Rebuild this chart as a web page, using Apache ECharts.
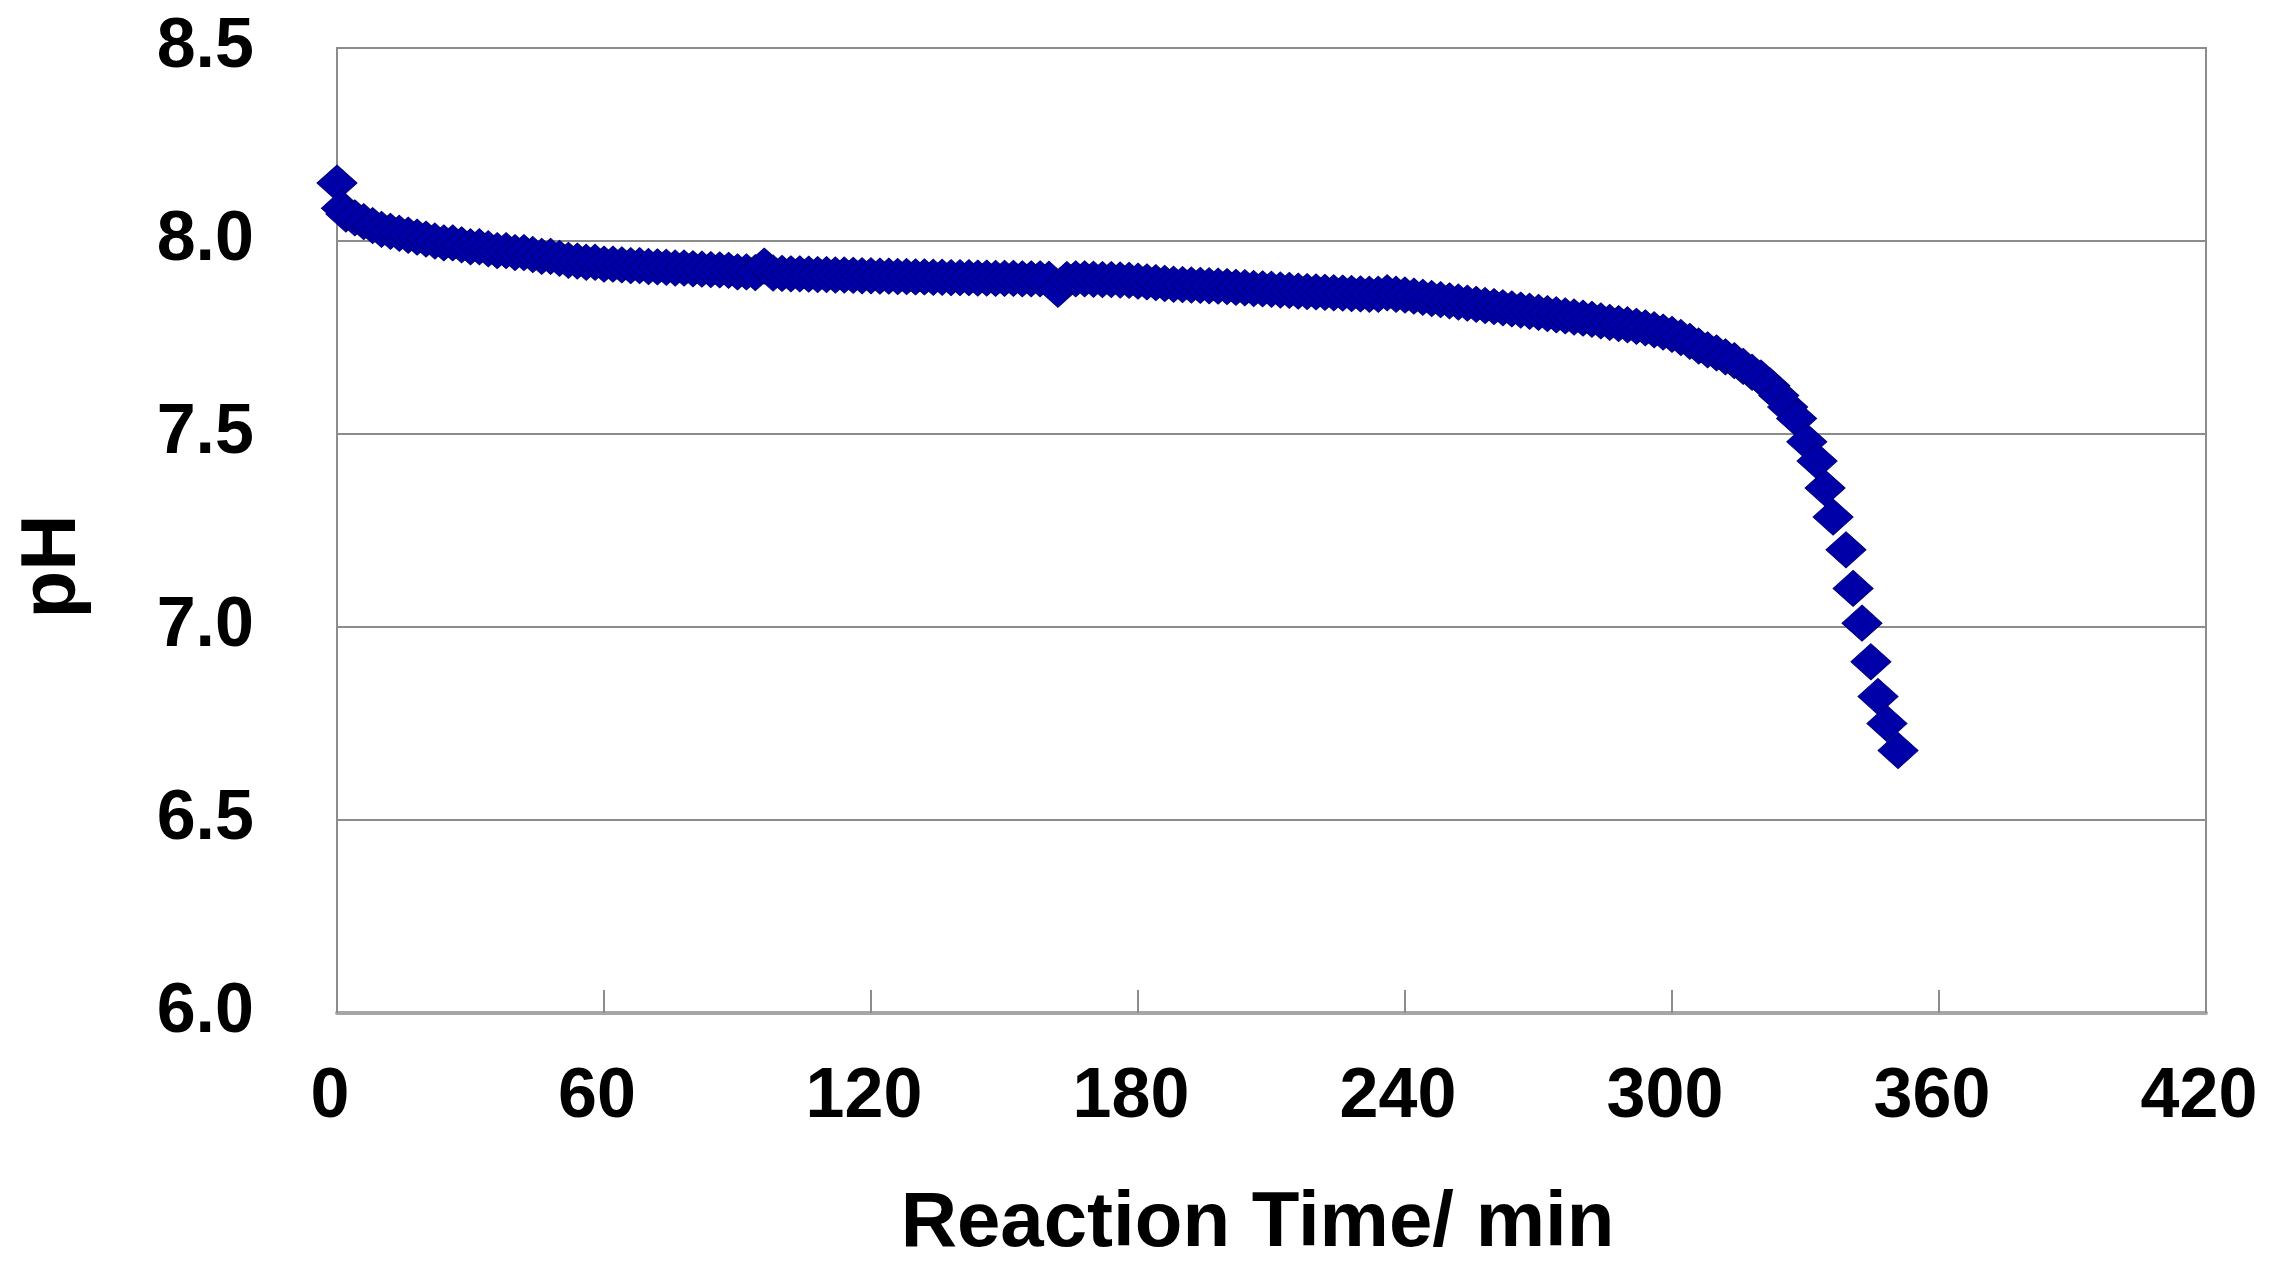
<!DOCTYPE html>
<html>
<head>
<meta charset="utf-8">
<script src="https://cdn.jsdelivr.net/npm/echarts@6/dist/echarts.min.js"></script>
<style>
html,body{margin:0;padding:0;background:#fff;}
#chart{width:2279px;height:1273px;}
</style>
</head>
<body>
<div id="chart"></div>
<script>
// Reaction time (min)
var times = [
  0, 1,
  2, 4, 6, 8, 10, 12, 14, 16, 18, 20,
  22, 24, 26, 28, 30, 32, 34, 36, 38, 40,
  42, 44, 46, 48, 50, 52, 54, 56, 58, 60,
  62, 64, 66, 68, 70, 72, 74, 76, 78, 80,
  82, 84, 86, 88, 90, 92, 94, 96, 98, 100,
  102, 104, 106, 108, 110, 112, 114, 116, 118, 120,
  122, 124, 126, 128, 130, 132, 134, 136, 138, 140,
  142, 144, 146, 148, 150, 152, 154, 156, 158, 160,
  162, 164, 166, 168, 170, 172, 174, 176, 178, 180,
  182, 184, 186, 188, 190, 192, 194, 196, 198, 200,
  202, 204, 206, 208, 210, 212, 214, 216, 218, 220,
  222, 224, 226, 228, 230, 232, 234, 236, 238, 240,
  242, 244, 246, 248, 250, 252, 254, 256, 258, 260,
  262, 264, 266, 268, 270, 272, 274, 276, 278, 280,
  282, 284, 286, 288, 290, 292, 294, 296, 298, 300,
  302, 304, 306, 308, 310, 312, 314, 316, 318, 320,
  322, 324,
  326, 328, 330.3, 332.6, 334.4, 336.2, 339.1, 340.7, 342.7, 344.7, 346.3, 348.3, 350.8
];
// pH readings
var phValues = [
  8.15, 8.085,
  8.07, 8.06, 8.05, 8.04, 8.03, 8.025, 8.02, 8.015, 8.01, 8.005,
  8.00, 7.995, 7.995, 7.99, 7.985, 7.985, 7.98, 7.975, 7.975, 7.97,
  7.97, 7.965, 7.96, 7.96, 7.955, 7.95, 7.948, 7.945, 7.945, 7.94,
  7.94, 7.938, 7.936, 7.936, 7.934, 7.933, 7.932, 7.93, 7.93, 7.928,
  7.927, 7.926, 7.925, 7.924, 7.92, 7.92, 7.918, 7.935, 7.917, 7.916,
  7.915, 7.915, 7.914, 7.913, 7.913, 7.912, 7.912, 7.911, 7.91, 7.91,
  7.909, 7.909, 7.908, 7.908, 7.907, 7.907, 7.906, 7.906, 7.905, 7.905,
  7.905, 7.904, 7.904, 7.903, 7.903, 7.903, 7.902, 7.902, 7.902, 7.901,
  7.875, 7.90, 7.902, 7.902, 7.901, 7.90, 7.90, 7.899, 7.898, 7.896,
  7.894, 7.892, 7.89, 7.888, 7.887, 7.886, 7.885, 7.884, 7.883, 7.882,
  7.88, 7.879, 7.877, 7.876, 7.875, 7.873, 7.872, 7.87, 7.869, 7.868,
  7.867, 7.866, 7.865, 7.864, 7.863, 7.862, 7.862, 7.866, 7.862, 7.86,
  7.857, 7.854, 7.851, 7.848, 7.845, 7.842, 7.839, 7.836, 7.833, 7.83,
  7.827, 7.824, 7.821, 7.818, 7.815, 7.812, 7.809, 7.806, 7.803, 7.80,
  7.797, 7.793, 7.789, 7.786, 7.783, 7.779, 7.775, 7.77, 7.764, 7.758,
  7.75, 7.74, 7.728, 7.718, 7.71, 7.70, 7.69, 7.675, 7.66, 7.645,
  7.625, 7.60,
  7.57, 7.54, 7.48, 7.43, 7.36, 7.285, 7.20, 7.10, 7.01, 6.91, 6.82, 6.75, 6.68
];
var xTicks = [0, 60, 120, 180, 240, 300, 360, 420];
var yTicks = [6.0, 6.5, 7.0, 7.5, 8.0, 8.5];

var points = times.map(function (t, i) { return [t, phValues[i]]; });

var chart = echarts.init(document.getElementById('chart'), null, {renderer: 'canvas'});
var fontFam = '"Liberation Sans", Arial, Helvetica, sans-serif';
chart.setOption({
  animation: false,
  backgroundColor: '#ffffff',
  grid: {
    left: 337, right: 73, top: 48, bottom: 260,
    show: true, borderColor: '#8c8c8c', borderWidth: 2, backgroundColor: 'transparent'
  },
  xAxis: {
    type: 'value',
    min: xTicks[0], max: xTicks[xTicks.length - 1], interval: 60,
    name: 'Reaction Time/ min',
    nameLocation: 'middle',
    nameGap: 172,
    nameTextStyle: {fontFamily: fontFam, fontWeight: 'bold', fontSize: 78, color: '#000', padding: [0, 28, 0, 0]},
    axisLine: {show: true, lineStyle: {color: '#a6a6a6', width: 4}},
    axisTick: {show: true, inside: true, length: 23, lineStyle: {color: '#8c8c8c', width: 2}},
    axisLabel: {fontFamily: fontFam, fontWeight: 'bold', fontSize: 70, color: '#000', margin: 50, padding: [0, 14, 0, 0]},
    splitLine: {show: false}
  },
  yAxis: {
    type: 'value',
    min: yTicks[0], max: yTicks[yTicks.length - 1], interval: 0.5,
    name: 'pH',
    nameLocation: 'middle',
    nameGap: 245,
    nameTextStyle: {fontFamily: fontFam, fontWeight: 'bold', fontSize: 78, color: '#000', padding: [0, 72, 0, 0]},
    axisLine: {show: true, lineStyle: {color: '#8c8c8c', width: 2}},
    axisTick: {show: false},
    axisLabel: {
      fontFamily: fontFam, fontWeight: 'bold', fontSize: 70, color: '#000', margin: 83,
      formatter: function (v) { return v.toFixed(1); }
    },
    splitLine: {show: true, lineStyle: {color: '#8c8c8c', width: 2}}
  },
  series: [{
    type: 'scatter',
    data: points,
    symbol: 'diamond',
    symbolSize: [40, 36],
    itemStyle: {color: '#0000a8', borderColor: '#00007a', borderWidth: 1, opacity: 1}
  }]
});
</script>
</body>
</html>
